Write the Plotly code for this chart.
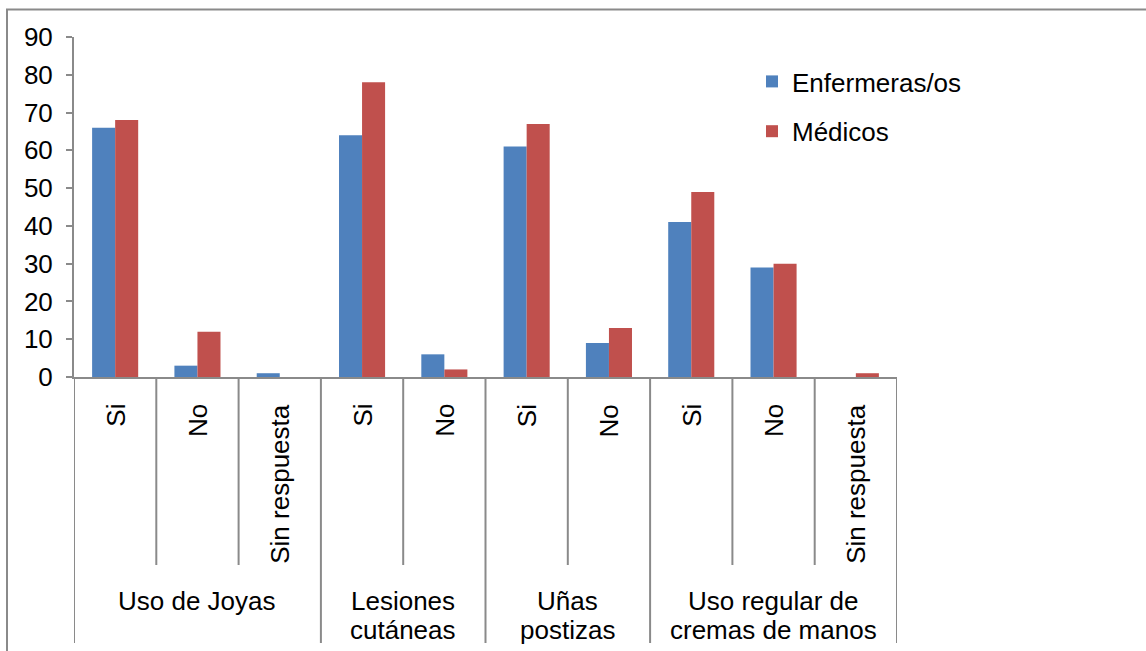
import plotly.graph_objects as go

# Survey categories (one bar slot each) and their parent groups
categories = ["Si", "No", "Sin respuesta", "Si", "No", "Si", "No", "Si", "No", "Sin respuesta"]
groups = [
    ("Uso de Joyas", 0, 2),
    ("Lesiones<br>cutáneas", 3, 4),
    ("Uñas<br>postizas", 5, 6),
    ("Uso regular de<br>cremas de manos", 7, 9),
]

# Percentages per professional group
enfermeras = [66, 3, 1, 64, 6, 61, 9, 41, 29, 0]
medicos = [68, 12, 0, 78, 2, 67, 13, 49, 30, 1]

y_ticks = list(range(0, 91, 10))

FONT = "Liberation Sans, Arial, sans-serif"
GREY = "#8a8a8a"
FS = 26

x_pos = list(range(len(categories)))

fig = go.Figure()
fig.add_trace(go.Bar(x=x_pos, y=enfermeras, name="Enfermeras/os",
                     marker=dict(color="#4F81BD", line=dict(width=0)),
                     legendgroup="a"))
fig.add_trace(go.Bar(x=x_pos, y=medicos, name="Médicos",
                     marker=dict(color="#C0504D", line=dict(width=0)),
                     legendgroup="b"))

# Plot-area geometry (pixels) used to convert to paper coordinates
PL, PR, PT, PB = 74, 897, 37, 377
PW, PH = PR - PL, PB - PT


def py(pix):
    return (PB - pix) / PH


def px(pix):
    return (pix - PL) / PW


shapes = []
annotations = []

# Rotated category labels under each slot
for i, lab in enumerate(categories):
    annotations.append(dict(
        x=i, y=py(402), xref="x", yref="paper", text=lab, textangle=-90,
        showarrow=False, xanchor="center", yanchor="top",
        font=dict(family=FONT, size=FS, color="black")))

# Group labels, one annotation per line
for name, a, b in groups:
    cx = (a + b) / 2
    for k, line in enumerate(name.split("<br>")):
        annotations.append(dict(
            x=cx, y=py(601 + 29 * k), xref="x", yref="paper", text=line,
            showarrow=False, xanchor="center", yanchor="middle",
            font=dict(family=FONT, size=FS, color="black")))

# Divider lines between categories and groups
group_edges = {-0.5, 9.5}
for name, a, b in groups:
    group_edges.add(a - 0.5)
    group_edges.add(b + 0.5)
for k in range(len(categories) + 1):
    xb = k - 0.5
    bottom = 643 if xb in group_edges else 565
    shapes.append(dict(type="line", xref="x", yref="paper", x0=xb, x1=xb,
                       y0=0, y1=py(bottom), line=dict(color=GREY, width=2)))

# Outer chart frame
shapes.append(dict(type="rect", xref="paper", yref="paper",
                   x0=px(7), x1=px(1160), y0=py(9.5), y1=py(670),
                   line=dict(color=GREY, width=2), fillcolor="rgba(0,0,0,0)",
                   layer="below"))

fig.update_layout(
    width=1146, height=651,
    margin=dict(l=PL, r=1146 - PR, t=PT, b=651 - PB, autoexpand=False),
    paper_bgcolor="white", plot_bgcolor="white",
    barmode="group", bargap=0.44, bargroupgap=0.0,
    font=dict(family=FONT, size=FS, color="black"),
    showlegend=True,
    legend=dict(x=px(752), y=py(58), xanchor="left", yanchor="top",
                font=dict(family=FONT, size=FS, color="black"),
                traceorder="grouped", tracegroupgap=13,
                bgcolor="rgba(0,0,0,0)", itemwidth=30),
    shapes=shapes,
    annotations=annotations,
)
fig.update_xaxes(range=[-0.5, 9.5], showticklabels=False, ticks="",
                 showline=True, linecolor=GREY, linewidth=2,
                 showgrid=False, zeroline=False, fixedrange=True)
fig.update_yaxes(range=[0, 90], tickvals=y_ticks, ticks="outside", ticklen=6,
                 tickcolor=GREY, tickwidth=2, showline=True, linecolor=GREY,
                 linewidth=2, showgrid=False, zeroline=False,
                 ticklabelstandoff=8,
                 tickfont=dict(family=FONT, size=FS, color="black"))

fig.write_html("out.html")
